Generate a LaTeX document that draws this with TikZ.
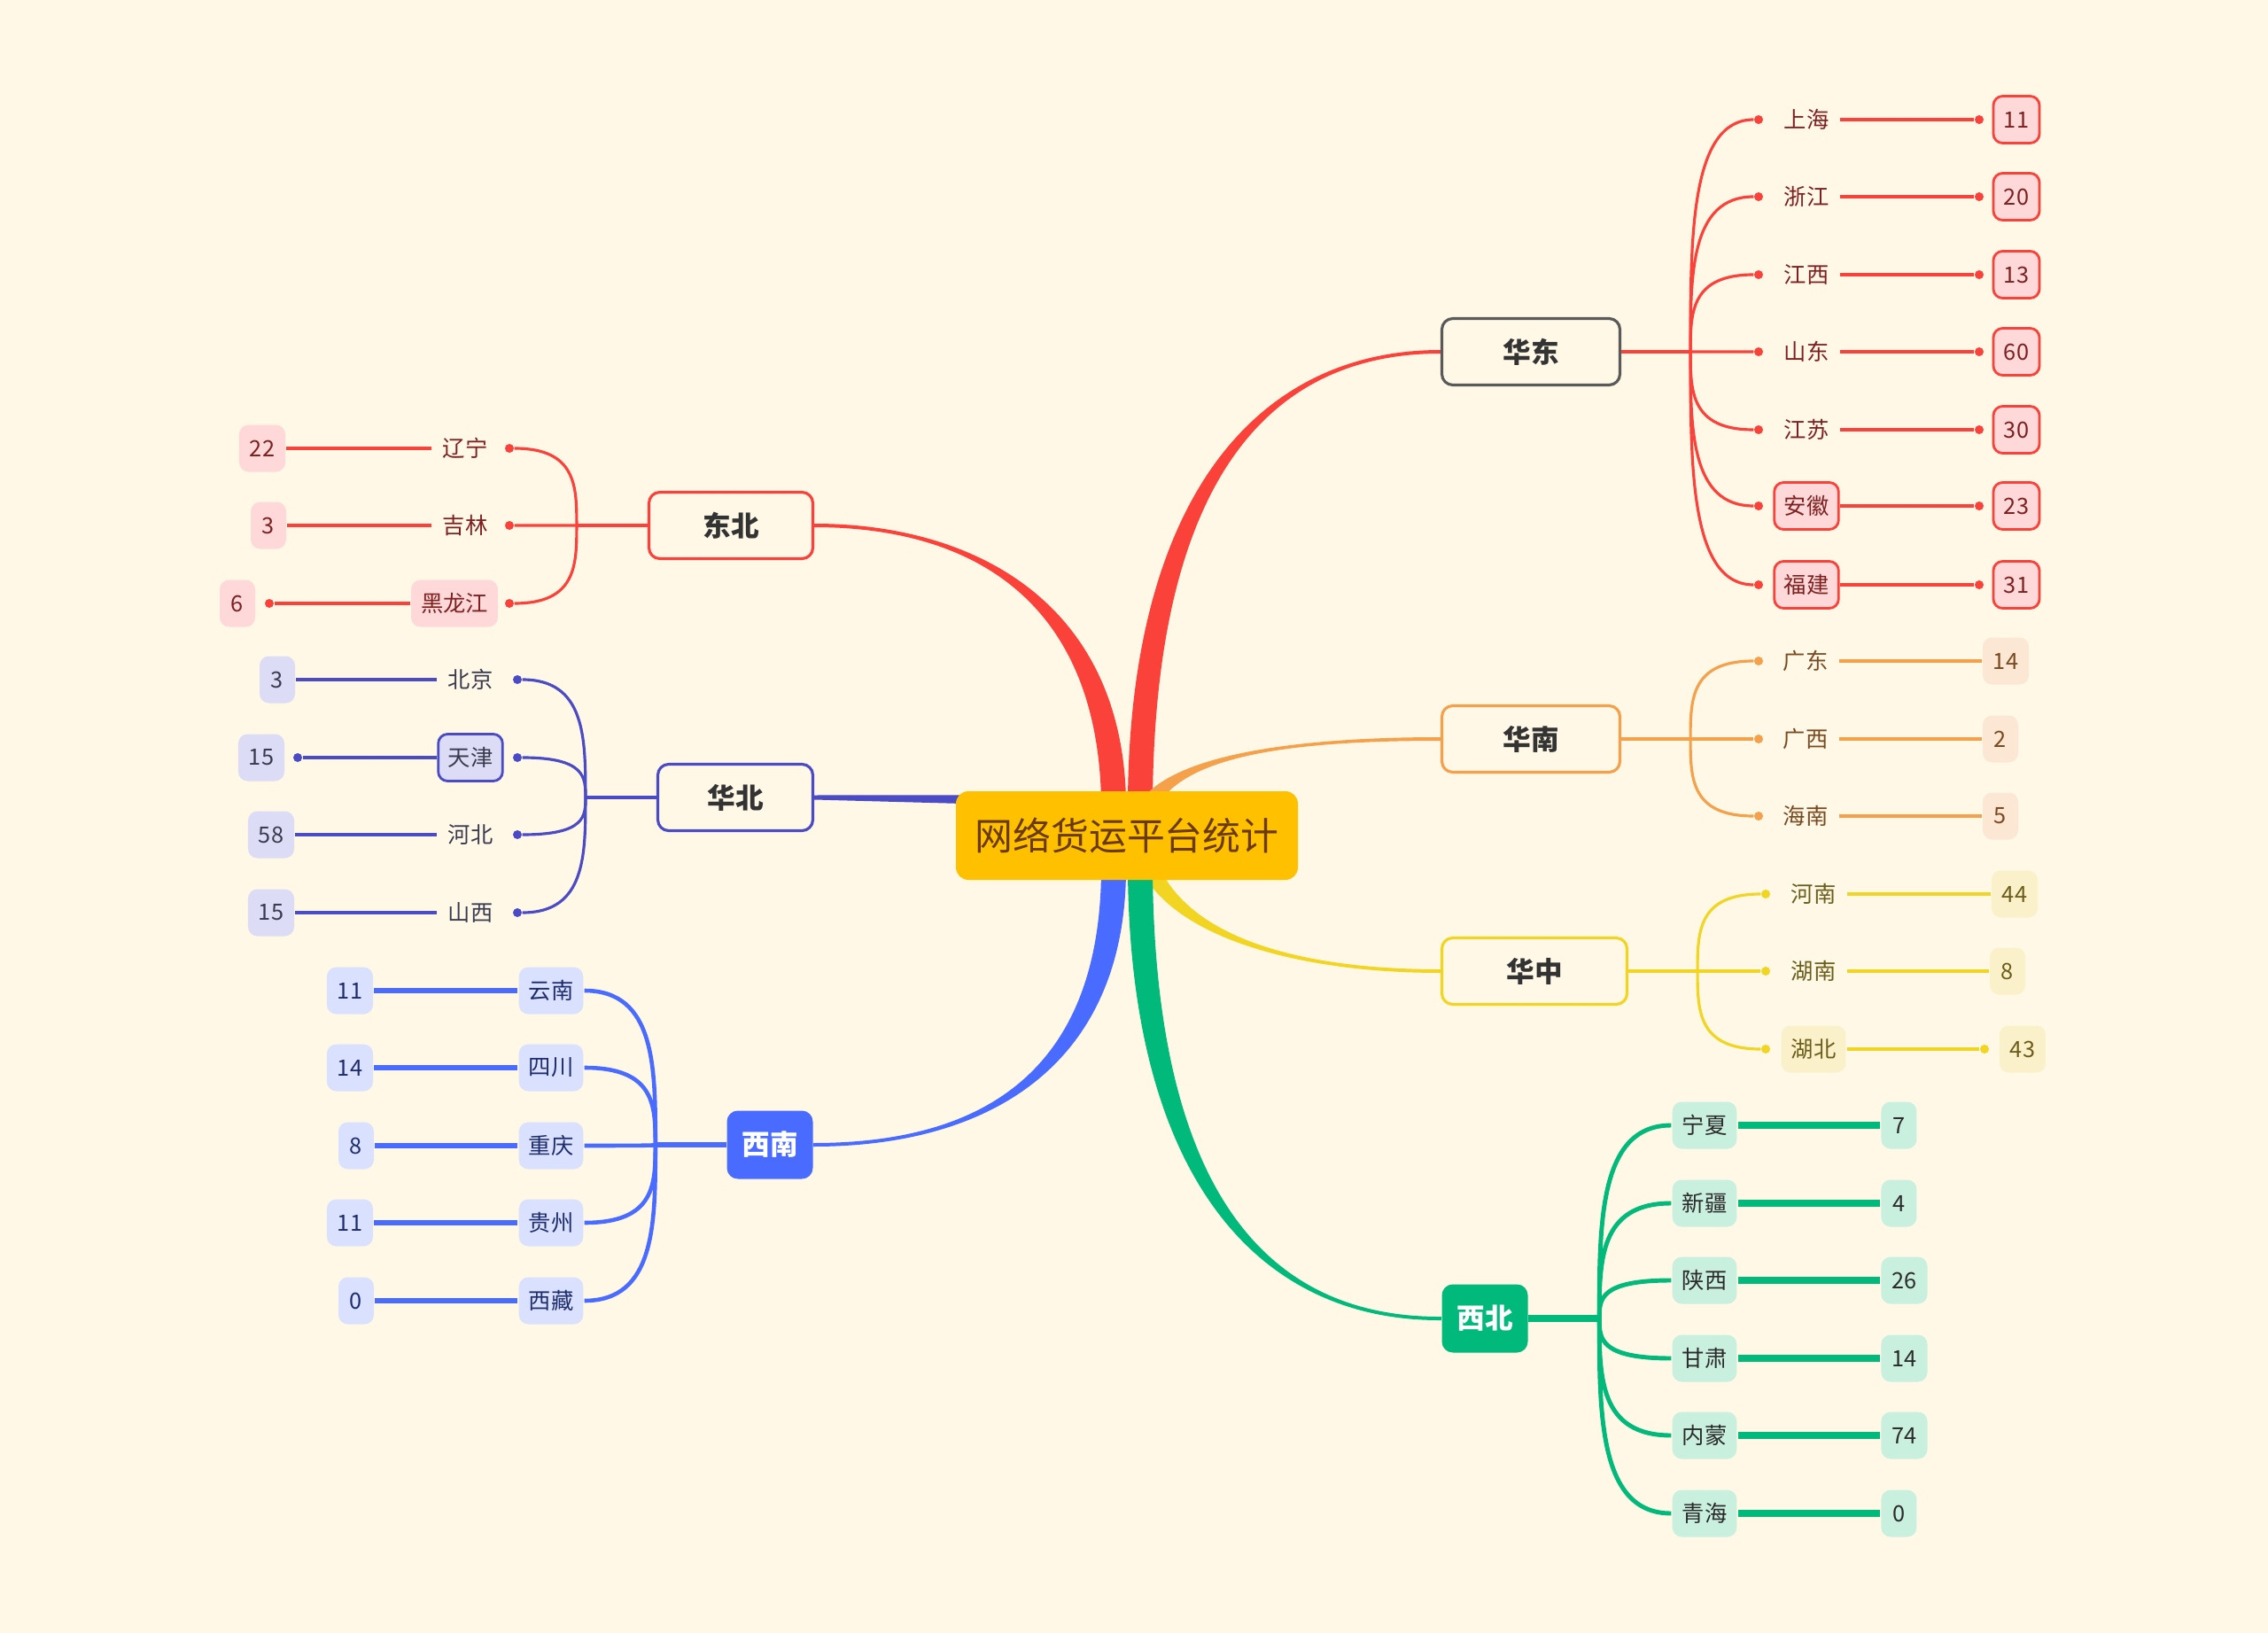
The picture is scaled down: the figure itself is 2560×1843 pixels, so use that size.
\documentclass[tikz,border=0pt]{standalone}
\usepackage{fontspec}
\setmainfont{Noto Sans CJK SC}
\usetikzlibrary{calc,positioning}
\definecolor{bgc}{HTML}{FFF8E6}
\definecolor{hubc}{HTML}{FFC000}
\definecolor{hubtxt}{HTML}{6B3A00}
\definecolor{redc}{HTML}{FA423B}
\definecolor{redfill}{HTML}{FFD9D9}
\definecolor{redtxt}{HTML}{7F2020}
\definecolor{orgc}{HTML}{F5A04A}
\definecolor{orgfill}{HTML}{FCE6D4}
\definecolor{orgtxt}{HTML}{7A4A20}
\definecolor{yelc}{HTML}{F2D422}
\definecolor{yelfill}{HTML}{FAF1CB}
\definecolor{yeltxt}{HTML}{6B5E1A}
\definecolor{grnc}{HTML}{00B97A}
\definecolor{grnfill}{HTML}{C9F0DF}
\definecolor{grntxt}{HTML}{2B2B2B}
\definecolor{purc}{HTML}{4B4BC6}
\definecolor{purfill}{HTML}{DCDCF6}
\definecolor{purtxt}{HTML}{3A3A50}
\definecolor{bluc}{HTML}{4A6BFF}
\definecolor{blufill}{HTML}{D9E1FF}
\definecolor{blutxt}{HTML}{1F2D6E}
\definecolor{grayc}{HTML}{5A5A5A}
\definecolor{topictxt}{HTML}{333333}
\pgfdeclarelayer{bottom}
\pgfdeclarelayer{back}
\pgfsetlayers{bottom,back,main}
% tapered branch: colour, root, c1, c2, end, x-offset at root, y-offset at end
\newcommand{\limb}[7]{%
  \fill[#1] ($(#2)+(#6,0)$) .. controls ($(#3)+(#6,0)$) and ($(#4)+(0,#7)$) .. ($(#5)+(0,#7)$)
    -- ($(#5)-(0,#7)$) .. controls ($(#4)-(0,#7)$) and ($(#3)-(#6,0)$) .. ($(#2)-(#6,0)$) -- cycle;}
\tikzset{
  hub/.style={fill=hubc,rounded corners=4pt,minimum width=38.6mm,minimum height=10mm,text=hubtxt,font=\fontsize{12.2}{14}\selectfont},
  topic/.style={draw,line width=0.9pt,rounded corners=3.5pt,fill=bgc,minimum height=7.5mm,text=topictxt,font=\bfseries\fontsize{9}{11}\selectfont},
  topicfill/.style={rounded corners=3.5pt,minimum height=7.7mm,minimum width=9.7mm,text=white,font=\bfseries\fontsize{9}{11}\selectfont},
  leaf/.style={inner xsep=1.1mm,inner ysep=0pt,minimum height=5.3mm,rounded corners=3pt,line width=0.8pt,font=\fontsize{7.2}{8}\selectfont},
  num/.style={inner xsep=1.2mm,inner ysep=0pt,minimum height=5.3mm,minimum width=4mm,rounded corners=3pt,line width=0.8pt,font=\fontsize{7.2}{8}\selectfont},
  bead/.style={circle,fill,inner sep=0pt,minimum size=1mm},
  twig/.style={line width=0.9pt},
  stem/.style={line width=1.3pt}
}
\begin{document}
\begin{tikzpicture}[x=0.1mm,y=-0.1mm]
\begin{pgfonlayer}{bottom}
\fill[bgc] (0,0) rectangle (2560,1843);
\end{pgfonlayer}
\useasboundingbox (0,0) rectangle (2560,1843);

% centre and main topics
\node[hub] (hub) at (1272,943) {网络货运平台统计};
\node[topic,draw=grayc,minimum width=20.1mm] (huadong) at (1728,397) {华东};
\node[topic,draw=orgc,minimum width=20.1mm] (huanan) at (1728,834) {华南};
\node[topic,draw=yelc,minimum width=20.9mm] (huazhong) at (1732,1096) {华中};
\node[topicfill,fill=grnc] (xibei) at (1676,1488) {西北};
\node[topic,draw=redc,minimum width=18.5mm] (dongbei) at (825,593) {东北};
\node[topic,draw=purc,minimum width=17.5mm] (huabei) at (830,900) {华北};
\node[topicfill,fill=bluc] (xinan) at (869,1292) {西南};

% tapered branches behind the nodes
\begin{pgfonlayer}{back}
\coordinate (rdb) at ($(hub.north)+(-15,10)$);
\coordinate (rhd) at ($(hub.north)+(15,10)$);
\coordinate (rhn) at ($(hub.north)+(28,10)$);
\coordinate (rhz) at ($(hub.south)+(28,-10)$);
\coordinate (rxb) at ($(hub.south)+(15,-10)$);
\coordinate (rxn) at ($(hub.south)+(-15,-10)$);
\limb{redc}{rdb}{1252,680}{1100,593}{dongbei.east}{14}{-2}
\limb{redc}{rhd}{1290,560}{1420,397}{huadong.west}{-14}{-2}
\limb{orgc}{rhn}{1340,850}{1470,834}{huanan.west}{-11}{-2}
\limb{yelc}{rhz}{1340,1060}{1470,1096}{huazhong.west}{-11}{2}
\limb{grnc}{rxb}{1290,1330}{1420,1489}{xibei.west}{-14}{2}
\limb{bluc}{rxn}{1255,1200}{1120,1292}{xinan.east}{14}{2}
\fill[purc] ($(hub.north west)+(20,5)$) -- ($(huabei.east)+(0,-2.5)$) -- ($(huabei.east)+(0,2.5)$) -- ($(hub.north west)+(20,15)$) -- cycle;
\end{pgfonlayer}

% 华东
\coordinate (fhd) at ($(huadong.east)+(78,0)$);
\draw[redc,stem] (huadong.east) -- (fhd);
\foreach \id/\lb/\nb/\yy/\fc/\dc in {sh/上海/11/135/none/none,zj/浙江/20/222/none/none,jx/江西/13/310/none/none,sd/山东/60/397/none/none,js/江苏/30/485/none/none,ah/安徽/23/571/redfill/redc,fj/福建/31/660/redfill/redc}{
  \node[bead,redc] (p\id) at (1985,\yy) {};
  \node[leaf,text=redtxt,fill=\fc,draw=\dc] (l\id) at (2039,\yy) {\lb};
  \node[bead,redc] (q\id) at (2234,\yy) {};
  \node[num,fill=redfill,draw=redc,text=redtxt] (n\id) at (2276,\yy) {\nb};
  \draw[redc,twig] (fhd) .. controls ($(fhd)!0.5!(fhd|-p\id)$) and (fhd|-p\id) .. (p\id);
  \draw[redc,stem] (l\id) -- (q\id);
}

% 华南
\coordinate (fhn) at ($(huanan.east)+(78,0)$);
\draw[orgc,stem] (huanan.east) -- (fhn);
\foreach \id/\lb/\nb/\yy/\xx in {gd/广东/14/746/2264,gx/广西/2/834/2258,hn/海南/5/921/2258}{
  \node[bead,orgc] (p\id) at (1985,\yy) {};
  \node[leaf,text=orgtxt] (l\id) at (2038,\yy) {\lb};
  \node[num,fill=orgfill,text=orgtxt] (n\id) at (\xx,\yy) {\nb};
  \draw[orgc,twig] (fhn) .. controls ($(fhn)!0.5!(fhn|-p\id)$) and (fhn|-p\id) .. (p\id);
  \draw[orgc,stem] (l\id) -- (n\id);
}

% 华中
\coordinate (fhz) at ($(huazhong.east)+(78,0)$);
\draw[yelc,stem] (huazhong.east) -- (fhz);
\foreach \id/\lb/\nb/\yy/\xx/\fc in {hen/河南/44/1009/2274/none,hun/湖南/8/1096/2266/none,hb/湖北/43/1184/2283/yelfill}{
  \node[bead,yelc] (p\id) at (1993,\yy) {};
  \node[leaf,text=yeltxt,fill=\fc] (l\id) at (2047,\yy) {\lb};
  \node[num,fill=yelfill,text=yeltxt] (n\id) at (\xx,\yy) {\nb};
  \draw[yelc,twig] (fhz) .. controls ($(fhz)!0.5!(fhz|-p\id)$) and (fhz|-p\id) .. (p\id);
}
\draw[yelc,stem] (lhen) -- (nhen);
\draw[yelc,stem] (lhun) -- (nhun);
\node[bead,yelc] (qhb) at (2240,1184) {};
\draw[yelc,stem] (lhb) -- (qhb);

% 西北
\coordinate (fxb) at ($(xibei.east)+(80,0)$);
\draw[grnc,line width=2pt] (xibei.east) -- (fxb);
\foreach \id/\lb/\nb/\yy in {nx/宁夏/7/1270,xj/新疆/4/1358,sx/陕西/26/1445,gs/甘肃/14/1533,nm/内蒙/74/1620,qh/青海/0/1708}{
  \node[leaf,fill=grnfill,text=grntxt] (l\id) at (1924,\yy) {\lb};
  \node[num,fill=grnfill,text=grntxt,anchor=west] (n\id) at (2122,\yy) {\nb};
  \draw[grnc,line width=1.4pt] (fxb) .. controls ($(fxb)!0.5!(fxb|-l\id.west)$) and (fxb|-l\id.west) .. (l\id.west);
  \draw[grnc,line width=2pt] (l\id) -- (n\id);
}

% 东北
\coordinate (fdb) at ($(dongbei.west)+(-80,0)$);
\draw[redc,stem] (dongbei.west) -- (fdb);
\foreach \id/\lb/\nb/\yy/\xx/\lx/\fc in {ln/辽宁/22/506/296/525/none,jl/吉林/3/593/303/525/none,hlj/黑龙江/6/681/268/513/redfill}{
  \node[bead,redc] (p\id) at (575,\yy) {};
  \node[leaf,text=redtxt,fill=\fc] (l\id) at (\lx,\yy) {\lb};
  \node[num,fill=redfill,text=redtxt] (n\id) at (\xx,\yy) {\nb};
  \draw[redc,twig] (fdb) .. controls ($(fdb)!0.5!(fdb|-p\id)$) and (fdb|-p\id) .. (p\id);
}
\draw[redc,stem] (nln) -- (lln);
\draw[redc,stem] (njl) -- (ljl);
\node[bead,redc] (qhlj) at (304,681) {};
\draw[redc,stem] (qhlj) -- (lhlj);

% 华北
\coordinate (fhb) at ($(huabei.west)+(-80,0)$);
\draw[purc,line width=1.1pt] (huabei.west) -- (fhb);
\foreach \id/\lb/\nb/\yy/\xx/\fc/\dc in {bj/北京/3/767/313/none/none,tj/天津/15/855/295/purfill/purc,heb/河北/58/942/306/none/none,shx/山西/15/1030/306/none/none}{
  \node[bead,purc] (p\id) at (584,\yy) {};
  \node[leaf,text=purtxt,fill=\fc,draw=\dc] (l\id) at (531,\yy) {\lb};
  \node[num,fill=purfill,text=purtxt] (n\id) at (\xx,\yy) {\nb};
  \draw[purc,twig] (fhb) .. controls ($(fhb)!0.5!(fhb|-p\id)$) and (fhb|-p\id) .. (p\id);
}
\draw[purc,line width=1.1pt] (nbj) -- (lbj);
\node[bead,purc] (qtj) at (336,855) {};
\draw[purc,line width=1.1pt] (qtj) -- (ltj);
\draw[purc,line width=1.1pt] (nheb) -- (lheb);
\draw[purc,line width=1.1pt] (nshx) -- (lshx);

% 西南
\coordinate (fxn) at ($(xinan.west)+(-80,0)$);
\draw[bluc,line width=1.6pt] (xinan.west) -- (fxn);
\foreach \id/\lb/\nb/\yy/\xx in {yn/云南/11/1118/395,sc/四川/14/1205/395,cq/重庆/8/1293/402,gz/贵州/11/1380/395,xz/西藏/0/1468/402}{
  \node[leaf,fill=blufill,text=blutxt] (l\id) at (622,\yy) {\lb};
  \node[num,fill=blufill,text=blutxt] (n\id) at (\xx,\yy) {\nb};
  \draw[bluc,line width=1.3pt] (fxn) .. controls ($(fxn)!0.5!(fxn|-l\id.east)$) and (fxn|-l\id.east) .. (l\id.east);
  \draw[bluc,line width=1.6pt] (n\id) -- (l\id);
}
\end{tikzpicture}
\end{document}
